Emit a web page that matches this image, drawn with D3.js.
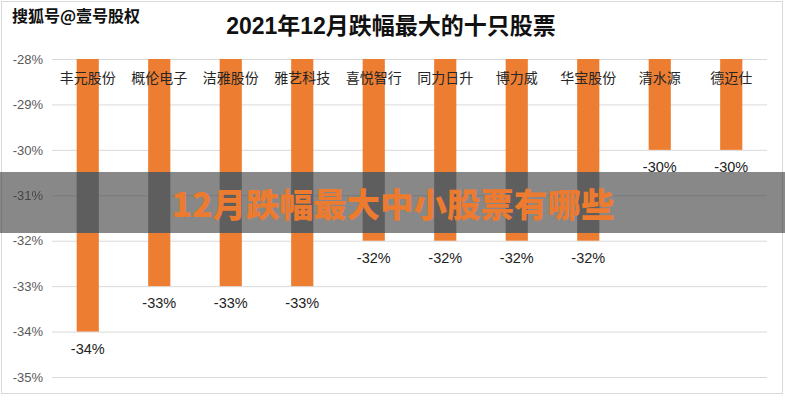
<!DOCTYPE html>
<html>
<head>
<meta charset="utf-8">
<script src="https://cdn.jsdelivr.net/npm/d3@7"></script>
<style>
  body { margin: 0; background: #fff; }
  svg { display: block; }
</style>
</head>
<body>
<div id="container"></div>
<script>
// data
const categories = ['丰元股份', '概伦电子', '洁雅股份', '雅艺科技', '喜悦智行',
                    '同力日升', '博力威', '华宝股份', '清水源', '德迈仕'];
const values = [-34, -33, -33, -33, -32, -32, -32, -32, -30, -30];
const yTicks = [-28, -29, -30, -31, -32, -33, -34, -35];
const title = '2021年12月跌幅最大的十只股票';
const banner = '12月跌幅最大中小股票有哪些';
const watermark = '搜狐号@壹号股权';

const W = 785, H = 406;
const margin = { top: 59, right: 18, bottom: 29, left: 52 };
const cjk = '"Noto Sans CJK SC", "Noto Sans", sans-serif';
const latin = '"Liberation Sans", Arial, sans-serif';

const svg = d3.select('#container')
  .append('svg')
  .attr('width', W)
  .attr('height', H);

const defs = svg.append('defs');
defs.append('clipPath').attr('id', 'band')
  .append('rect').attr('x', 0).attr('y', 172).attr('width', W).attr('height', 61);
defs.append('filter').attr('id', 'dim')
  .attr('filterUnits', 'userSpaceOnUse')
  .attr('x', 0).attr('y', 0).attr('width', W).attr('height', H)
  .attr('color-interpolation-filters', 'sRGB')
  .append('feColorMatrix')
  .attr('type', 'matrix')
  .attr('values',
    '0.12 0.236 0.044 0 0.133 ' +
    '0.12 0.236 0.044 0 0.133 ' +
    '0.12 0.236 0.044 0 0.133 ' +
    '0 0 0 1 0');

const chart = svg.append('g').attr('id', 'chart');

chart.append('rect')
  .attr('width', W).attr('height', H)
  .attr('fill', '#fff');

// outer frame
chart.append('rect')
  .attr('x', 1.5).attr('y', 1.5)
  .attr('width', 781).attr('height', 392)
  .attr('fill', 'none')
  .attr('stroke', '#d9d9d9');

const x = d3.scaleBand()
  .domain(categories)
  .range([margin.left, W - margin.right])
  .paddingInner(0.69)
  .paddingOuter(0.345);

const y = d3.scaleLinear()
  .domain([-28, -35])
  .range([margin.top, H - margin.bottom]);

// gridlines + tick labels
const yAxis = d3.axisLeft(y)
  .tickValues(yTicks)
  .tickSize(-(W - margin.right - margin.left))
  .tickPadding(9)
  .tickFormat(d => d + '%');

chart.append('g')
  .attr('transform', `translate(${margin.left},0)`)
  .call(yAxis)
  .call(g => g.select('.domain').remove())
  .call(g => g.selectAll('line').attr('stroke', '#d9d9d9'))
  .call(g => g.selectAll('text')
    .attr('fill', '#595959')
    .attr('font-size', 13)
    .attr('font-family', latin));

// bars hang down from the top of the axis
chart.selectAll('rect.bar')
  .data(values)
  .enter()
  .append('rect')
  .attr('class', 'bar')
  .attr('x', (d, i) => x(categories[i]))
  .attr('width', x.bandwidth())
  .attr('y', y(-28))
  .attr('height', d => y(d) - y(-28))
  .attr('fill', '#ed7d31');

// category labels
chart.selectAll('text.cat')
  .data(categories)
  .enter()
  .append('text')
  .attr('class', 'cat')
  .attr('x', d => x(d) + x.bandwidth() / 2)
  .attr('y', 83)
  .attr('text-anchor', 'middle')
  .attr('font-size', 14)
  .attr('font-family', cjk)
  .attr('fill', '#262626')
  .text(d => d);

// value labels
chart.selectAll('text.val')
  .data(values)
  .enter()
  .append('text')
  .attr('class', 'val')
  .attr('x', (d, i) => x(categories[i]) + x.bandwidth() / 2)
  .attr('y', d => y(d) + 22)
  .attr('text-anchor', 'middle')
  .attr('font-size', 14.5)
  .attr('font-family', latin)
  .attr('fill', '#222')
  .text(d => d + '%');

// title
chart.append('text')
  .attr('x', 391)
  .attr('y', 34)
  .attr('text-anchor', 'middle')
  .attr('font-size', 23)
  .attr('font-weight', 'bold')
  .attr('font-family', '"Liberation Sans", "Noto Sans CJK SC", sans-serif')
  .attr('fill', '#111')
  .text(title);

// watermark
chart.append('text')
  .attr('x', 12)
  .attr('y', 22)
  .attr('font-size', 16)
  .attr('font-weight', 'bold')
  .attr('font-family', cjk)
  .attr('fill', '#111')
  .attr('stroke', '#fff')
  .attr('stroke-width', 2)
  .attr('paint-order', 'stroke')
  .text(watermark);

// darkened band over the middle of the chart
svg.append('use')
  .attr('href', '#chart')
  .attr('clip-path', 'url(#band)')
  .attr('filter', 'url(#dim)');

svg.append('text')
  .attr('x', 393)
  .attr('y', 217)
  .attr('text-anchor', 'middle')
  .attr('font-size', 33.5)
  .attr('font-weight', 900)
  .attr('font-family', cjk)
  .attr('fill', '#ec7b30')
  .text(banner);
</script>
</body>
</html>
